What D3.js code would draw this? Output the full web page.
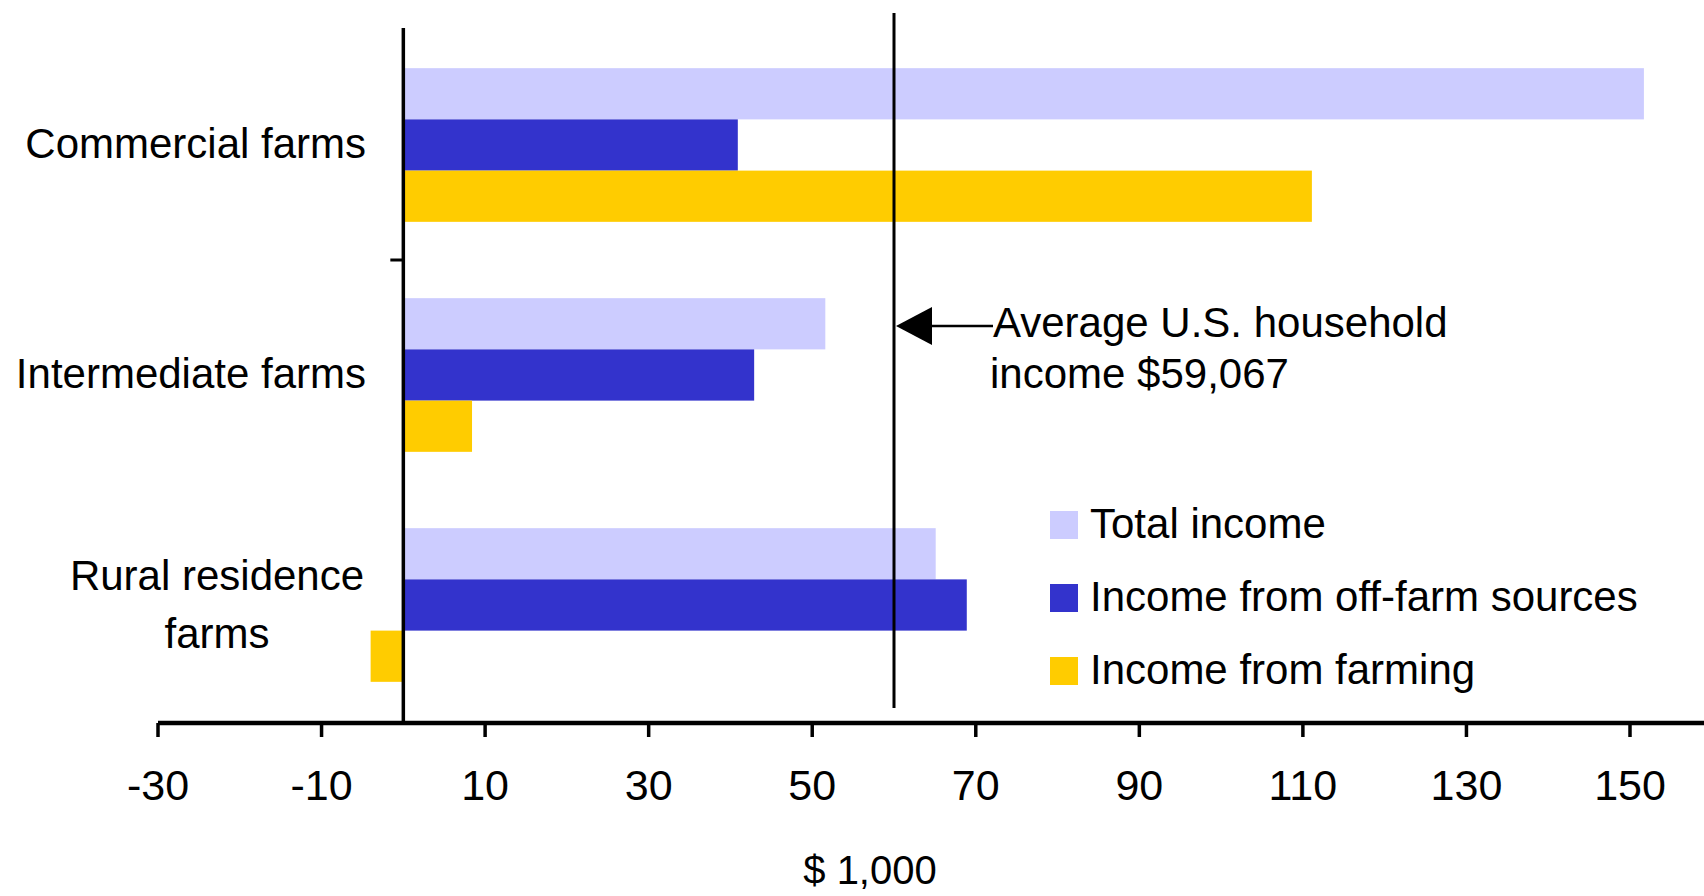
<!DOCTYPE html>
<html>
<head>
<meta charset="utf-8">
<script src="https://cdn.jsdelivr.net/npm/d3@7"></script>
<style>
  body { margin: 0; background: #fff; }
  svg text { font-family: "Liberation Sans", Arial, sans-serif; fill: #000; }
</style>
</head>
<body>
<svg id="chart"></svg>
<script>
// data ($1,000)
const categories = ["Commercial farms", "Intermediate farms", "Rural residence farms"];
const series = ["Total income", "Income from off-farm sources", "Income from farming"];
const totalIncome = [151.7, 51.6, 65.1];
const offFarmIncome = [40.9, 42.9, 68.9];
const farmingIncome = [111.1, 8.4, -4.0];
const xTicks = [-30, -10, 10, 30, 50, 70, 90, 110, 130, 150];
const avgLine = 60; // where the reference line is drawn
const avgLabel = ["Average U.S. household", "income $59,067"];
const axisTitle = "$ 1,000";

const colors = ["#ccccff", "#3333cc", "#ffcc00"];
const values = [totalIncome, offFarmIncome, farmingIncome];

const width = 1704, height = 896;
const svg = d3.select("#chart").attr("width", width).attr("height", height);

// scales
const x = d3.scaleLinear().domain([-30, 150]).range([158, 1630]);
const y0 = d3.scaleBand().domain(categories).range([30, 720]);
const y1 = d3.scaleBand().domain(series).range([0, y0.bandwidth()]).paddingOuter(0.745);

// bars
const groups = svg.selectAll(".cat")
    .data(categories)
    .enter()
    .append("g")
    .attr("transform", d => `translate(0,${y0(d)})`);

groups.selectAll("rect")
    .data((c, ci) => series.map((s, si) => ({ s, si, v: values[si][ci] })))
    .enter()
    .append("rect")
    .attr("x", d => x(Math.min(0, d.v)))
    .attr("width", d => Math.abs(x(d.v) - x(0)))
    .attr("y", d => y1(d.s))
    .attr("height", y1.bandwidth())
    .attr("fill", d => colors[d.si]);

// category labels
const lab = svg.append("g").style("font-size", "42px");
categories.forEach((c, i) => {
    const cy = y0(c) + y0.bandwidth() / 2;
    if (c === "Rural residence farms") {
        lab.append("text").attr("x", 217).attr("y", cy - 15).attr("text-anchor", "middle").text("Rural residence");
        lab.append("text").attr("x", 217).attr("y", cy + 43).attr("text-anchor", "middle").text("farms");
    } else {
        lab.append("text").attr("x", 366).attr("y", cy + 13).attr("text-anchor", "end").text(c);
    }
});

// zero (category) axis line
svg.append("line")
    .attr("x1", x(0)).attr("x2", x(0))
    .attr("y1", 28).attr("y2", 722)
    .attr("stroke", "#000").attr("stroke-width", 3.5);
// category separator tick
svg.append("line")
    .attr("x1", x(0) - 13).attr("x2", x(0))
    .attr("y1", y0(categories[1])).attr("y2", y0(categories[1]))
    .attr("stroke", "#000").attr("stroke-width", 3);

// average reference line
svg.append("line")
    .attr("x1", x(avgLine)).attr("x2", x(avgLine))
    .attr("y1", 13).attr("y2", 708)
    .attr("stroke", "#000").attr("stroke-width", 3);

// x axis
svg.append("line")
    .attr("x1", x(-30)).attr("x2", width)
    .attr("y1", 723).attr("y2", 723)
    .attr("stroke", "#000").attr("stroke-width", 4.5);

const ax = svg.append("g");
ax.selectAll(".tick")
    .data(xTicks)
    .enter()
    .append("line")
    .attr("x1", d => x(d)).attr("x2", d => x(d))
    .attr("y1", 723).attr("y2", 737)
    .attr("stroke", "#000").attr("stroke-width", 3.5);
ax.selectAll(".tl")
    .data(xTicks)
    .enter()
    .append("text")
    .attr("x", d => x(d))
    .attr("y", 800)
    .attr("text-anchor", "middle")
    .style("font-size", "43px")
    .text(d => d);

svg.append("text")
    .attr("x", 870).attr("y", 884)
    .attr("text-anchor", "middle")
    .style("font-size", "40px")
    .text(axisTitle);

// annotation arrow + text
const ay = 326;
svg.append("line")
    .attr("x1", 930).attr("x2", 993)
    .attr("y1", ay).attr("y2", ay)
    .attr("stroke", "#000").attr("stroke-width", 2.5);
svg.append("path")
    .attr("d", `M${x(avgLine) + 2},${ay} L932,${ay - 19} L932,${ay + 19} Z`)
    .attr("fill", "#000");
svg.append("text").attr("x", 993).attr("y", 337).style("font-size", "42px").text(avgLabel[0]);
svg.append("text").attr("x", 990).attr("y", 388).style("font-size", "42px").text(avgLabel[1]);

// legend
const leg = svg.append("g").attr("transform", "translate(1050,511)");
series.forEach((s, i) => {
    const g = leg.append("g").attr("transform", `translate(0,${i * 73})`);
    g.append("rect").attr("width", 28).attr("height", 28).attr("fill", colors[i]);
    g.append("text").attr("x", 40).attr("y", 27).style("font-size", "42px").text(s);
});
</script>
</body>
</html>
